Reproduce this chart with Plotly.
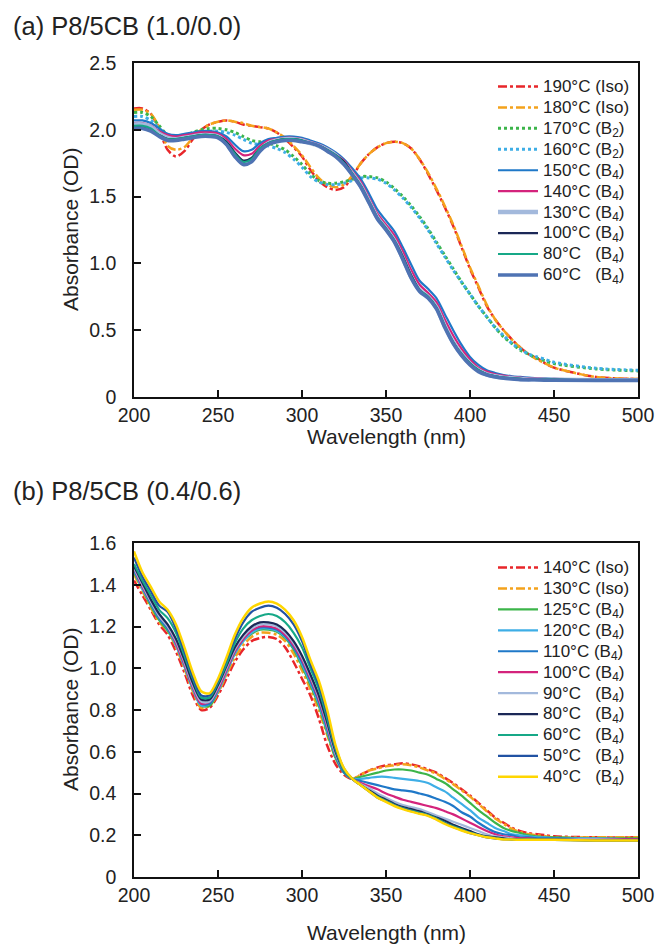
import plotly.graph_objects as go

# ---------------- data ----------------
WL = [200, 205, 210, 215, 220, 225, 230, 235, 240, 245, 250, 255, 260, 265, 270,
      275, 280, 285, 290, 295, 300, 305, 310, 315, 320, 325, 330,
      335, 340, 345, 350, 355, 360, 365, 370, 375, 380, 385, 390, 395, 400,
      405, 410, 415, 420, 425, 430, 435, 440, 445, 450, 475, 500]

# Panel (a) P8/5CB (1.0/0.0)
A_LABELS = ["190°C (Iso)", "180°C (Iso)", "170°C (B<sub>2</sub>)", "160°C (B<sub>2</sub>)",
            "150°C (B<sub>4</sub>)", "140°C (B<sub>4</sub>)", "130°C (B<sub>4</sub>)",
            "100°C (B<sub>4</sub>)", "80°C\u00a0\u00a0\u00a0(B<sub>4</sub>)", "60°C\u00a0\u00a0\u00a0(B<sub>4</sub>)"]

a_190 = [2.16, 2.16, 2.12, 2.00, 1.85, 1.80, 1.84, 1.93, 2.00, 2.04, 2.06, 2.07, 2.06, 2.04, 2.03,
         2.02, 2.01, 1.98, 1.93, 1.87, 1.80, 1.70, 1.62, 1.57, 1.55, 1.57, 1.65,
         1.75, 1.82, 1.87, 1.90, 1.91, 1.90, 1.86, 1.78, 1.67, 1.55, 1.42, 1.28, 1.12, 0.96,
         0.82, 0.68, 0.58, 0.50, 0.43, 0.37, 0.32, 0.29, 0.25, 0.22, 0.15, 0.135]
a_180 = [2.15, 2.15, 2.12, 2.02, 1.88, 1.85, 1.87, 1.94, 2.00, 2.04, 2.06, 2.07, 2.06, 2.05, 2.03,
         2.02, 2.01, 1.98, 1.94, 1.88, 1.81, 1.72, 1.64, 1.59, 1.57, 1.59, 1.66,
         1.75, 1.82, 1.87, 1.90, 1.91, 1.90, 1.86, 1.78, 1.68, 1.56, 1.43, 1.29, 1.13, 0.97,
         0.83, 0.69, 0.58, 0.50, 0.43, 0.37, 0.32, 0.28, 0.25, 0.22, 0.15, 0.135]
a_170 = [2.13, 2.13, 2.10, 2.03, 1.96, 1.94, 1.95, 1.98, 2.00, 2.01, 2.01, 2.00, 1.98, 1.95, 1.92,
         1.91, 1.90, 1.88, 1.85, 1.80, 1.74, 1.67, 1.62, 1.60, 1.60, 1.61, 1.63,
         1.65, 1.65, 1.64, 1.61, 1.56, 1.50, 1.43, 1.35, 1.26, 1.16, 1.06, 0.96, 0.86, 0.77,
         0.68, 0.60, 0.52, 0.45, 0.40, 0.35, 0.32, 0.29, 0.27, 0.25, 0.21, 0.195]
a_160 = [2.10, 2.10, 2.07, 2.01, 1.95, 1.93, 1.94, 1.96, 1.98, 1.99, 1.99, 1.98, 1.96, 1.93, 1.90,
         1.89, 1.88, 1.86, 1.83, 1.78, 1.72, 1.65, 1.61, 1.59, 1.59, 1.60, 1.62,
         1.64, 1.64, 1.63, 1.60, 1.55, 1.49, 1.42, 1.34, 1.25, 1.15, 1.05, 0.95, 0.86, 0.77,
         0.68, 0.60, 0.52, 0.46, 0.40, 0.36, 0.32, 0.30, 0.28, 0.26, 0.215, 0.20]
a_150 = [2.07, 2.07, 2.05, 2.01, 1.97, 1.96, 1.97, 1.98, 1.99, 1.99, 1.98, 1.95, 1.89, 1.84, 1.85,
         1.90, 1.93, 1.94, 1.95, 1.95, 1.94, 1.92, 1.90, 1.87, 1.83, 1.78, 1.71,
         1.63, 1.52, 1.40, 1.32, 1.24, 1.12, 0.99, 0.87, 0.81, 0.74, 0.62, 0.50, 0.39, 0.30,
         0.24, 0.20, 0.18, 0.165, 0.155, 0.15, 0.145, 0.14, 0.14, 0.135, 0.13, 0.13]
a_140 = [2.05, 2.05, 2.03, 1.99, 1.96, 1.95, 1.96, 1.97, 1.98, 1.98, 1.97, 1.93, 1.86, 1.81, 1.82,
         1.88, 1.92, 1.93, 1.94, 1.94, 1.93, 1.91, 1.89, 1.86, 1.82, 1.77, 1.69,
         1.61, 1.49, 1.37, 1.29, 1.21, 1.09, 0.95, 0.84, 0.78, 0.71, 0.58, 0.46, 0.36, 0.28,
         0.22, 0.19, 0.17, 0.16, 0.15, 0.145, 0.14, 0.14, 0.135, 0.135, 0.13, 0.13]
a_130 = [2.04, 2.04, 2.02, 1.97, 1.94, 1.93, 1.94, 1.95, 1.96, 1.96, 1.95, 1.90, 1.81, 1.75, 1.77,
         1.85, 1.90, 1.92, 1.93, 1.93, 1.92, 1.90, 1.88, 1.85, 1.81, 1.75, 1.67,
         1.58, 1.46, 1.34, 1.26, 1.17, 1.04, 0.90, 0.80, 0.75, 0.67, 0.53, 0.41, 0.32, 0.25,
         0.20, 0.17, 0.155, 0.145, 0.14, 0.135, 0.13, 0.13, 0.13, 0.13, 0.125, 0.125]
a_100 = [2.02, 2.02, 2.00, 1.96, 1.93, 1.93, 1.94, 1.95, 1.96, 1.96, 1.95, 1.91, 1.83, 1.77, 1.79,
         1.86, 1.90, 1.92, 1.93, 1.93, 1.92, 1.90, 1.88, 1.85, 1.81, 1.76, 1.67,
         1.58, 1.46, 1.34, 1.26, 1.17, 1.05, 0.91, 0.80, 0.75, 0.67, 0.53, 0.41, 0.32, 0.25,
         0.20, 0.17, 0.155, 0.145, 0.14, 0.135, 0.13, 0.13, 0.13, 0.13, 0.125, 0.125]
a_80 = [2.03, 2.03, 2.01, 1.96, 1.93, 1.93, 1.94, 1.95, 1.96, 1.96, 1.95, 1.90, 1.82, 1.76, 1.78,
        1.86, 1.90, 1.92, 1.93, 1.93, 1.92, 1.90, 1.88, 1.85, 1.81, 1.75, 1.67,
        1.58, 1.46, 1.34, 1.26, 1.17, 1.04, 0.90, 0.80, 0.75, 0.67, 0.53, 0.41, 0.32, 0.25,
        0.20, 0.17, 0.155, 0.145, 0.14, 0.135, 0.13, 0.13, 0.13, 0.13, 0.125, 0.125]
a_60 = [2.01, 2.01, 1.99, 1.95, 1.92, 1.92, 1.93, 1.94, 1.95, 1.95, 1.94, 1.89, 1.80, 1.74, 1.76,
        1.84, 1.89, 1.91, 1.92, 1.92, 1.91, 1.90, 1.88, 1.84, 1.80, 1.74, 1.66,
        1.57, 1.45, 1.33, 1.25, 1.16, 1.03, 0.89, 0.79, 0.74, 0.66, 0.52, 0.40, 0.31, 0.24,
        0.19, 0.165, 0.15, 0.14, 0.135, 0.13, 0.13, 0.13, 0.125, 0.125, 0.125, 0.125]

# Panel (b) P8/5CB (0.4/0.6)
B_LABELS = ["140°C (Iso)", "130°C (Iso)", "125°C (B<sub>4</sub>)", "120°C (B<sub>4</sub>)",
            "110°C (B<sub>4</sub>)", "100°C (B<sub>4</sub>)", "90°C\u00a0\u00a0\u00a0(B<sub>4</sub>)",
            "80°C\u00a0\u00a0\u00a0(B<sub>4</sub>)", "60°C\u00a0\u00a0\u00a0(B<sub>4</sub>)",
            "50°C\u00a0\u00a0\u00a0(B<sub>4</sub>)", "40°C\u00a0\u00a0\u00a0(B<sub>4</sub>)"]

b_140 = [1.42, 1.35, 1.28, 1.21, 1.16, 1.08, 0.98, 0.87, 0.80, 0.81, 0.87, 0.95, 1.03, 1.09, 1.13,
         1.145, 1.15, 1.14, 1.10, 1.03, 0.95, 0.87, 0.76, 0.63, 0.54, 0.49, 0.47,
         0.49, 0.51, 0.525, 0.535, 0.54, 0.545, 0.54, 0.53, 0.515, 0.50, 0.475, 0.45, 0.42, 0.39,
         0.355, 0.32, 0.285, 0.26, 0.235, 0.22, 0.21, 0.205, 0.20, 0.195, 0.19, 0.19]
b_130 = [1.45, 1.37, 1.29, 1.22, 1.18, 1.10, 1.00, 0.89, 0.81, 0.82, 0.88, 0.97, 1.05, 1.11, 1.15,
         1.17, 1.17, 1.16, 1.13, 1.07, 0.99, 0.90, 0.80, 0.68, 0.57, 0.50, 0.47,
         0.49, 0.51, 0.52, 0.53, 0.535, 0.54, 0.535, 0.525, 0.51, 0.495, 0.47, 0.445, 0.415, 0.385,
         0.35, 0.315, 0.28, 0.255, 0.23, 0.215, 0.205, 0.20, 0.195, 0.19, 0.19, 0.19]
b_125 = [1.46, 1.38, 1.30, 1.23, 1.18, 1.11, 1.01, 0.90, 0.82, 0.82, 0.89, 0.98, 1.07, 1.13, 1.165,
         1.185, 1.185, 1.175, 1.145, 1.09, 1.01, 0.92, 0.82, 0.69, 0.57, 0.50, 0.47,
         0.48, 0.49, 0.50, 0.51, 0.515, 0.515, 0.51, 0.50, 0.49, 0.47, 0.45, 0.42, 0.39, 0.355,
         0.32, 0.29, 0.26, 0.235, 0.22, 0.21, 0.20, 0.195, 0.19, 0.19, 0.185, 0.185]
b_120 = [1.47, 1.38, 1.31, 1.24, 1.19, 1.11, 1.01, 0.90, 0.82, 0.83, 0.89, 0.98, 1.07, 1.13, 1.17,
         1.19, 1.19, 1.18, 1.15, 1.10, 1.02, 0.93, 0.83, 0.70, 0.58, 0.50, 0.47,
         0.47, 0.475, 0.48, 0.48, 0.475, 0.47, 0.465, 0.46, 0.45, 0.43, 0.41, 0.38, 0.35, 0.32,
         0.285, 0.26, 0.235, 0.22, 0.205, 0.20, 0.195, 0.19, 0.19, 0.185, 0.185, 0.18]
b_110 = [1.47, 1.39, 1.31, 1.24, 1.19, 1.12, 1.02, 0.91, 0.83, 0.83, 0.90, 0.99, 1.08, 1.14, 1.18,
         1.195, 1.195, 1.185, 1.155, 1.10, 1.03, 0.94, 0.84, 0.71, 0.58, 0.50, 0.47,
         0.46, 0.45, 0.44, 0.43, 0.42, 0.415, 0.41, 0.40, 0.39, 0.375, 0.36, 0.34, 0.31, 0.29,
         0.26, 0.235, 0.215, 0.205, 0.20, 0.19, 0.19, 0.185, 0.185, 0.185, 0.18, 0.18]
b_100 = [1.48, 1.39, 1.32, 1.25, 1.20, 1.12, 1.02, 0.91, 0.83, 0.84, 0.90, 0.99, 1.08, 1.14, 1.18,
         1.20, 1.20, 1.19, 1.16, 1.11, 1.04, 0.95, 0.85, 0.72, 0.59, 0.51, 0.47,
         0.45, 0.435, 0.42, 0.40, 0.385, 0.37, 0.36, 0.35, 0.34, 0.33, 0.315, 0.30, 0.28, 0.26,
         0.24, 0.22, 0.205, 0.195, 0.19, 0.185, 0.185, 0.18, 0.18, 0.18, 0.18, 0.18]
b_90 = [1.48, 1.40, 1.32, 1.25, 1.20, 1.13, 1.03, 0.92, 0.84, 0.84, 0.91, 1.00, 1.09, 1.15, 1.19,
        1.21, 1.21, 1.20, 1.17, 1.12, 1.05, 0.96, 0.86, 0.73, 0.59, 0.51, 0.47,
        0.445, 0.425, 0.40, 0.38, 0.36, 0.345, 0.335, 0.325, 0.31, 0.295, 0.28, 0.265, 0.25, 0.235,
        0.22, 0.205, 0.195, 0.19, 0.185, 0.18, 0.18, 0.18, 0.18, 0.18, 0.18, 0.175]
b_80 = [1.49, 1.41, 1.33, 1.26, 1.21, 1.14, 1.04, 0.93, 0.85, 0.85, 0.92, 1.01, 1.10, 1.16, 1.20,
        1.22, 1.22, 1.21, 1.18, 1.13, 1.06, 0.97, 0.87, 0.74, 0.60, 0.51, 0.47,
        0.44, 0.415, 0.39, 0.37, 0.35, 0.335, 0.325, 0.315, 0.30, 0.285, 0.27, 0.25, 0.235, 0.22,
        0.205, 0.195, 0.19, 0.185, 0.18, 0.18, 0.18, 0.18, 0.18, 0.18, 0.175, 0.175]
b_60 = [1.50, 1.42, 1.35, 1.28, 1.24, 1.17, 1.06, 0.95, 0.86, 0.86, 0.93, 1.02, 1.12, 1.19, 1.23,
        1.25, 1.26, 1.25, 1.22, 1.17, 1.10, 1.00, 0.90, 0.76, 0.61, 0.51, 0.47,
        0.44, 0.41, 0.385, 0.365, 0.345, 0.33, 0.318, 0.308, 0.297, 0.28, 0.26, 0.243, 0.228, 0.213,
        0.202, 0.192, 0.186, 0.182, 0.18, 0.18, 0.18, 0.178, 0.178, 0.178, 0.175, 0.175]
b_50 = [1.53, 1.44, 1.37, 1.30, 1.27, 1.19, 1.08, 0.96, 0.87, 0.87, 0.94, 1.04, 1.14, 1.22, 1.27,
        1.29, 1.30, 1.29, 1.26, 1.21, 1.13, 1.02, 0.92, 0.78, 0.62, 0.52, 0.47,
        0.44, 0.41, 0.38, 0.362, 0.343, 0.328, 0.315, 0.305, 0.295, 0.277, 0.257, 0.24, 0.225, 0.21,
        0.20, 0.19, 0.185, 0.18, 0.18, 0.18, 0.178, 0.178, 0.178, 0.178, 0.175, 0.175]
b_40 = [1.56, 1.46, 1.39, 1.32, 1.28, 1.21, 1.10, 0.98, 0.89, 0.88, 0.95, 1.05, 1.16, 1.24, 1.29,
        1.31, 1.32, 1.31, 1.28, 1.23, 1.15, 1.04, 0.94, 0.80, 0.63, 0.52, 0.47,
        0.44, 0.41, 0.38, 0.36, 0.34, 0.325, 0.313, 0.303, 0.293, 0.275, 0.255, 0.238, 0.223, 0.21,
        0.20, 0.19, 0.185, 0.18, 0.18, 0.178, 0.178, 0.178, 0.178, 0.178, 0.175, 0.175]

X_TICKS = [200, 250, 300, 350, 400, 450, 500]
A_YTICKS = [0, 0.5, 1.0, 1.5, 2.0, 2.5]
A_YTEXT = ["0", "0.5", "1.0", "1.5", "2.0", "2.5"]
B_YTICKS = [0, 0.2, 0.4, 0.6, 0.8, 1.0, 1.2, 1.4, 1.6]
B_YTEXT = ["0", "0.2", "0.4", "0.6", "0.8", "1.0", "1.2", "1.4", "1.6"]

# ---------------- styles ----------------
RED = "#e8262a"
ORANGE = "#f4a21c"
GREEN = "#3cb54a"
LTBLUE = "#3eaee6"
BLUE = "#1f78c8"
MAGENTA = "#d4237c"
STEEL = "#a3b9dc"
NAVY = "#1b2857"
TEAL = "#16a887"
DBLUE = "#2152a3"
YELLOW = "#ffd600"

a_series = [
    (a_190, RED, "dashdot", 2.5), (a_180, ORANGE, "dashdot", 2.5),
    (a_170, GREEN, "dot", 3), (a_160, LTBLUE, "dot", 3),
    (a_150, BLUE, "solid", 2.2), (a_140, MAGENTA, "solid", 2.2),
    (a_130, STEEL, "solid", 4.5), (a_100, NAVY, "solid", 2.2),
    (a_80, TEAL, "solid", 2.2), (a_60, "#4f73b3", "solid", 3.5),
]
b_series = [
    (b_140, RED, "dashdot", 2.5), (b_130, ORANGE, "dashdot", 2.5),
    (b_125, GREEN, "solid", 2.2), (b_120, LTBLUE, "solid", 2.2),
    (b_110, BLUE, "solid", 2.2), (b_100, MAGENTA, "solid", 2.2),
    (b_90, STEEL, "solid", 2.2), (b_80, NAVY, "solid", 2.2),
    (b_60, TEAL, "solid", 2.2), (b_50, DBLUE, "solid", 2.2),
    (b_40, YELLOW, "solid", 2.5),
]

LEG_FONT = 13.8
TXT = "<span style='font-size:17px'>{}</span>"

fig = go.Figure()
for (vals, col, dash, w), lab in zip(a_series, A_LABELS):
    fig.add_trace(go.Scatter(x=WL, y=vals, mode="lines", name=TXT.format(lab),
                             line=dict(color=col, dash=dash, width=w, shape="spline", smoothing=0.8),
                             xaxis="x", yaxis="y", legend="legend"))
for (vals, col, dash, w), lab in zip(b_series, B_LABELS):
    fig.add_trace(go.Scatter(x=WL, y=vals, mode="lines", name=TXT.format(lab),
                             line=dict(color=col, dash=dash, width=w, shape="spline", smoothing=0.8),
                             xaxis="x2", yaxis="y2", legend="legend2"))

W, H = 663, 947
ML, MR, MT, MB = 134, 25, 63, 70
PW, PH = W - ML - MR, H - MT - MB


def px_x(px):
    return (px - ML) / PW


def px_y(py):
    return (H - MB - py) / PH


YA = [px_y(397), px_y(63)]
YB = [px_y(877), px_y(543)]

FONT = "Arial, Liberation Sans, sans-serif"
axis_common = dict(showline=True, linecolor="#111", linewidth=1.5, mirror=True,
                   ticks="inside", ticklen=7, tickwidth=1.5, tickcolor="#111",
                   showgrid=False, zeroline=False, automargin=False,
                   tickfont=dict(family=FONT, size=19.5, color="#222"))


def label(text, x, y, size, angle=0, anchor="center"):
    return dict(text=text, xref="paper", yref="paper", x=px_x(x), y=px_y(y),
                xanchor=anchor, yanchor="middle", showarrow=False, textangle=angle,
                font=dict(family=FONT, size=size, color="#222"))


fig.update_layout(
    width=W, height=H,
    margin=dict(l=ML, r=MR, t=MT, b=MB, autoexpand=False),
    paper_bgcolor="white", plot_bgcolor="white",
    font=dict(family=FONT, color="#222"),
    showlegend=True,
    xaxis=dict(domain=[0, 1], anchor="y", range=[200, 500], tickvals=X_TICKS,
               ticklabelstandoff=0, **axis_common),
    yaxis=dict(domain=YA, anchor="x", range=[0, 2.5], tickvals=A_YTICKS, ticktext=A_YTEXT,
               ticklabelstandoff=12, **axis_common),
    xaxis2=dict(domain=[0, 1], anchor="y2", range=[200, 500], tickvals=X_TICKS,
                ticklabelstandoff=0, **axis_common),
    yaxis2=dict(domain=YB, anchor="x2", range=[0, 1.6], tickvals=B_YTICKS, ticktext=B_YTEXT,
                ticklabelstandoff=12, **axis_common),
    legend=dict(x=px_x(493), y=px_y(71), xanchor="left", yanchor="top",
                bgcolor="rgba(0,0,0,0)", font=dict(family=FONT, size=LEG_FONT, color="#222"),
                itemwidth=40, tracegroupgap=0),
    legend2=dict(x=px_x(493), y=px_y(552), xanchor="left", yanchor="top",
                 bgcolor="rgba(0,0,0,0)", font=dict(family=FONT, size=LEG_FONT, color="#222"),
                 itemwidth=40, tracegroupgap=0),
    annotations=[
        label("(a) P8/5CB (1.0/0.0)", 11, 26, 25.5, anchor="left"),
        label("(b) P8/5CB (0.4/0.6)", 11, 491, 25.5, anchor="left"),
        label("Wavelength (nm)", 386, 436, 21),
        label("Wavelength (nm)", 386, 932, 21),
        label("Absorbance (OD)", 70, 230, 21, angle=-90),
        label("Absorbance (OD)", 70, 710, 21, angle=-90),
    ],
)

fig.write_html("out.html")
